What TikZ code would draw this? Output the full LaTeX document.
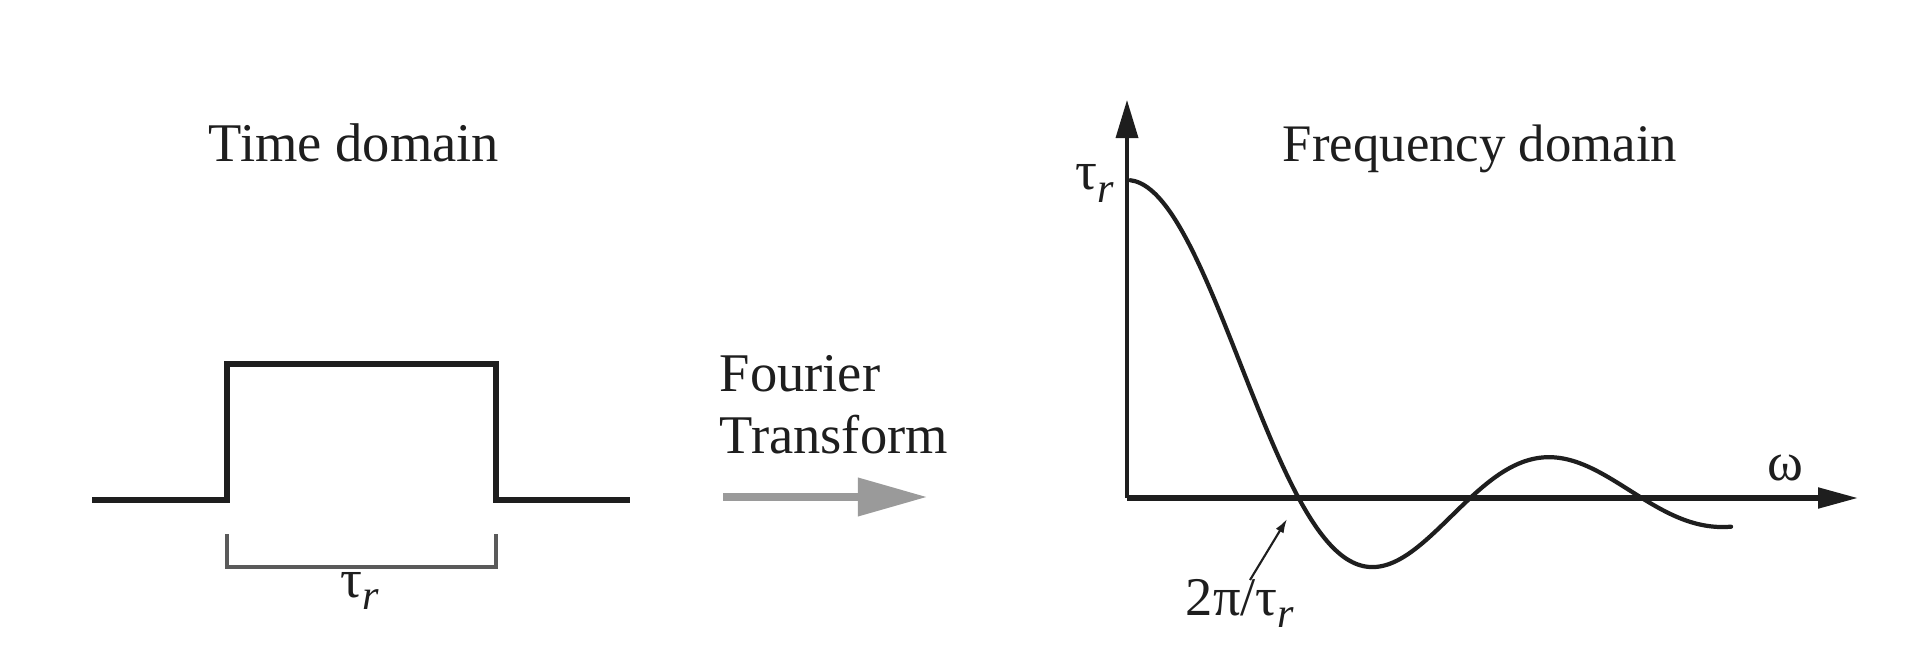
\documentclass[tikz,border=0pt]{standalone}
\usepackage{fontspec}
\setmainfont{Liberation Serif}
\usetikzlibrary{arrows.meta}
\definecolor{ink}{HTML}{1E1E1E}
\definecolor{brk}{HTML}{5A5A5A}
\definecolor{fta}{HTML}{9A9A9A}
\newcommand{\tr}{τ\raisebox{-0.5ex}{\fontsize{12}{12}\selectfont\itshape r}}
\begin{document}
\begin{tikzpicture}[x=0.01cm,y=-0.01cm,
  txt/.style={font=\fontsize{15.5}{18}\selectfont, text=ink, inner sep=0pt},
  pulse/.style={draw=ink, line width=1.45pt, line join=miter},
  bracket/.style={draw=brk, line width=0.9pt},
  axisy/.style={draw=ink, line width=1.0pt, -{Triangle[length=0.38cm,width=0.22cm]}},
  axisx/.style={draw=ink, line width=1.45pt, -{Triangle[length=0.40cm,width=0.20cm]}},
  curve/.style={draw=ink, line width=1.2pt, line cap=round},
  bigarrow/.style={draw=fta, line width=2pt, -{Triangle[length=0.69cm,width=0.37cm,fill=fta]}},
  leader/.style={draw=ink, line width=0.6pt, -{Latex[length=0.14cm,width=0.09cm]}}]
\useasboundingbox (0,0) rectangle (1912,664);
% titles
\node[txt, anchor=base] (td) at (354,162) {Time domain};
\node[txt, anchor=base, font=\fontsize{15}{18}\selectfont] (fd) at (1480,162) {Frequency domain};
\node[txt, anchor=base west] (f1) at (719,391) {Fourier};
\node[txt, anchor=base west] (f2) at (719,453) {Transform};
% pulse
\coordinate (p0) at (92,500);
\coordinate (p1) at (227,500);
\coordinate (p2) at (227,364);
\coordinate (p3) at (496,364);
\coordinate (p4) at (496,500);
\coordinate (p5) at (630,500);
\draw[pulse] (p0) -- (p1) -- (p2) -- (p3) -- (p4) -- (p5);
% bracket
\coordinate (b1) at (227,534);
\coordinate (b2) at (227,567);
\coordinate (b3) at (496,567);
\coordinate (b4) at (496,534);
\draw[bracket] (b1) -- (b2) -- (b3) -- (b4);
\node[txt, anchor=base] (tw) at (360,597) {\tr};
% transform arrow
\coordinate (a0) at (723,497);
\coordinate (a1) at (927,497);
\draw[bigarrow] (a0) -- (a1);
% axes
\coordinate (O) at (1127,498);
\coordinate (ytip) at (1127,100);
\coordinate (xtip) at (1858,498);
\draw[axisy] (O) -- (ytip);
\draw[axisx] (O) -- (xtip);
\node[txt, anchor=base east] (tpk) at (1115,190) {\tr};
\node[txt, anchor=base] (om) at (1785,480) {ω};
% sinc curve
\draw[curve] plot[smooth, samples=120, domain=0.06:11.06, variable=\t]
  ({1127+\t*171.6/pi}, {498-318*sin(\t r)/\t});
% first zero label
\node[txt, anchor=base] (zl) at (1240,615) {2π/\tr};
\coordinate (zt) at (1250,580);
\coordinate (zh) at (1287,519);
\draw[leader] (zt) -- (zh);
\end{tikzpicture}
\end{document}
